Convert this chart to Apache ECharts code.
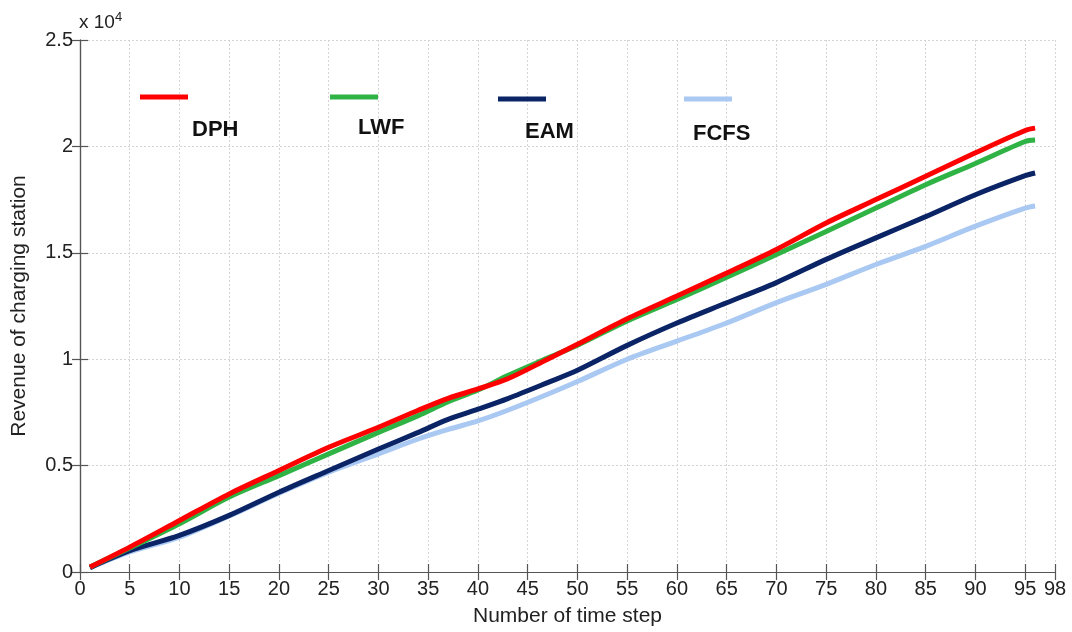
<!DOCTYPE html>
<html>
<head>
<meta charset="utf-8">
<script src="https://cdn.jsdelivr.net/npm/echarts@6/dist/echarts.min.js"></script>
<style>html,body{margin:0;padding:0;background:#fff}#c{width:1072px;height:632px}</style>
</head>
<body>
<div id="c"></div>
<script>
const steps = [1, 5, 10, 15, 20, 25, 30, 34, 37, 40, 43, 47, 50, 55, 60, 65, 70, 75, 80, 85, 90, 95, 96];
const dph  = [230, 1170, 2420, 3670, 4770, 5860, 6800, 7600, 8160, 8600, 9080, 10000, 10700, 11900, 12970, 14050, 15160, 16400, 17500, 18600, 19700, 20750, 20860];
const lwf  = [230, 1125, 2270, 3520, 4530, 5550, 6560, 7350, 8000, 8550, 9230, 10050, 10660, 11800, 12810, 13850, 14920, 16000, 17100, 18200, 19200, 20230, 20300];
const eam  = [200, 1000, 1720, 2660, 3750, 4770, 5780, 6560, 7170, 7650, 8150, 8900, 9480, 10650, 11700, 12650, 13600, 14690, 15700, 16700, 17730, 18625, 18750];
const fcfs = [200, 940, 1640, 2630, 3700, 4690, 5550, 6250, 6700, 7100, 7600, 8350, 8950, 10000, 10850, 11700, 12660, 13520, 14450, 15300, 16250, 17100, 17200];
const seriesNames = ['DPH', 'LWF', 'EAM', 'FCFS'];
const seriesColors = ['#ff0000', '#2fb344', '#0b2466', '#a9c8f2'];
const xTicks = {min: 0, max: 98, interval: 5};
const yTicks = {min: 0, max: 25000, interval: 5000};

const FONT = 'Liberation Sans, Arial, sans-serif';
const pair = arr => steps.map((s, i) => [s, arr[i]]);
const allData = [dph, lwf, eam, fcfs];

const gridLine = {show: true, lineStyle: {color: '#d4d4d4', type: [2, 2], width: 1}};
const axLine = {show: true, lineStyle: {color: '#555', width: 1.2}};
const tick = {show: true, inside: true, length: 8, lineStyle: {color: '#555', width: 1.2}};

const chart = echarts.init(document.getElementById('c'));
const legendGraphics = [];
const legendPos = [[140, 97, 192, 130], [330, 97, 358, 128], [498, 99, 525, 132], [684, 99, 693, 134]];
seriesNames.forEach((n, i) => {
  const p = legendPos[i];
  legendGraphics.push({type: 'line', z: 100, shape: {x1: p[0], y1: p[1], x2: p[0] + 48, y2: p[1]}, style: {stroke: seriesColors[i], lineWidth: 5}});
  legendGraphics.push({type: 'text', z: 100, x: p[2], y: p[3], style: {text: n, font: 'bold 22px ' + FONT, fill: '#111', textVerticalAlign: 'middle'}});
});
legendGraphics.push({
  type: 'text', x: 79, y: 23, z: 100,
  style: {
    text: '{a|x 10}{b|4}', textVerticalAlign: 'middle',
    rich: {a: {fontFamily: FONT, fontSize: 19, fill: '#222'}, b: {fontFamily: FONT, fontSize: 13, fill: '#222', verticalAlign: 'top', padding: [0, 0, 11, 0]}}
  }
});

chart.setOption({
  animation: false,
  backgroundColor: '#fff',
  grid: {left: 80, right: 17, top: 40, bottom: 59},
  xAxis: [{
    type: 'value', min: xTicks.min, max: xTicks.max, interval: xTicks.interval,
    name: 'Number of time step', nameLocation: 'middle', nameGap: 34,
    nameTextStyle: {fontFamily: FONT, fontSize: 21, color: '#222'},
    axisLine: axLine, axisTick: tick, splitLine: gridLine,
    axisLabel: {fontFamily: FONT, fontSize: 20, color: '#222', margin: 7, showMaxLabel: true}
  }, {
    type: 'value', position: 'top', min: xTicks.min, max: xTicks.max, interval: xTicks.interval,
    axisLine: axLine, axisTick: tick, splitLine: {show: false}, axisLabel: {show: false}
  }],
  yAxis: [{
    type: 'value', min: yTicks.min, max: yTicks.max, interval: yTicks.interval,
    name: 'Revenue of charging station', nameLocation: 'middle', nameGap: 50,
    nameTextStyle: {fontFamily: FONT, fontSize: 21, color: '#222'},
    axisLine: axLine, axisTick: tick, splitLine: gridLine,
    axisLabel: {fontFamily: FONT, fontSize: 20, color: '#222', margin: 7, formatter: v => String(v / 10000)}
  }, {
    type: 'value', position: 'right', min: yTicks.min, max: yTicks.max, interval: yTicks.interval,
    axisLine: axLine, axisTick: tick, splitLine: {show: false}, axisLabel: {show: false}
  }],
  series: seriesNames.map((n, i) => ({
    name: n, type: 'line', data: pair(allData[i]), showSymbol: false, smooth: 0.3,
    lineStyle: {color: seriesColors[i], width: 5}, z: 10 - i
  })),
  graphic: legendGraphics
});
</script>
</body>
</html>
